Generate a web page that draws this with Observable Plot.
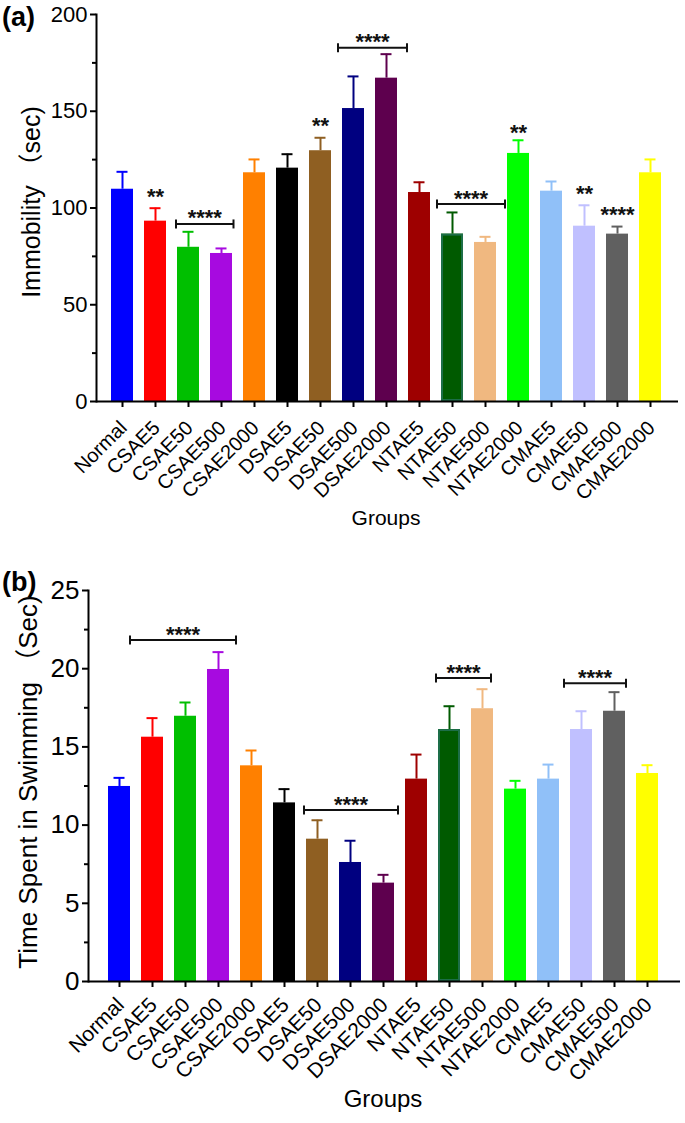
<!DOCTYPE html>
<html><head><meta charset="utf-8">
<script src="https://cdn.jsdelivr.net/npm/d3@7"></script>
<script src="https://cdn.jsdelivr.net/npm/@observablehq/plot@0.6"></script>
<style>
body{margin:0;background:#fff;}
#wrap{position:relative;width:685px;height:1123px;font-family:"Liberation Sans",Arial,sans-serif;}
#wrap svg{display:block;}
.plab{position:absolute;left:2px;font-weight:bold;font-size:27px;line-height:1;color:#000;}
</style></head><body><div id="wrap"><div class="plab" id="la" style="top:4px">(a)</div><div class="plab" id="lb" style="top:569px">(b)</div></div>
<script>
// ---------- data ----------
const groups = ["Normal","CSAE5","CSAE50","CSAE500","CSAE2000","DSAE5","DSAE50","DSAE500","DSAE2000","NTAE5","NTAE50","NTAE500","NTAE2000","CMAE5","CMAE50","CMAE500","CMAE2000"];
const barColors = ["#0000ff","#ff0000","#00bf00","#a70ae0","#ff8000","#000000","#8f5f22","#000080","#5e004e","#9e0000","#005a00","#f0b880","#00ff00","#90c0f8","#c0c0ff","#606060","#ffff00"];

const immobilityMean = [109.7,93.2,79.7,76.5,118.2,120.6,129.6,151.4,167.1,108.0,86.5,82.2,128.2,108.7,90.6,86.5,118.2];
const immobilitySEM  = [9.0,6.7,8.0,2.6,6.9,7.2,6.7,16.6,12.4,5.3,11.2,2.9,6.8,5.0,10.8,3.9,6.9];

const swimMean = [12.47,15.62,16.96,19.95,13.79,11.42,9.10,7.61,6.29,12.94,16.11,17.44,12.30,12.94,16.11,17.28,13.30];
const swimSEM  = [0.55,1.22,0.88,1.11,0.98,0.88,1.21,1.39,0.53,1.57,1.49,1.25,0.53,0.93,1.17,1.22,0.53];

const yTicksA = [0,50,100,150,200];
const yMinorA = [25,75,125,175];
const yTicksB = [0,5,10,15,20,25];
const yMinorB = [2.5,7.5,12.5,17.5,22.5];

const starGroupsA = ["CSAE5","DSAE50","NTAE2000","CMAE50","CMAE500"];
const starLabelsA = ["**","**","**","**","****"];
const starYA      = [108.5,145.2,141.8,109.9,99.2];

const bracketFromA = ["CSAE50","DSAE500","NTAE50"];
const bracketToA   = ["CSAE500","DSAE2000","NTAE500"];
const bracketYA    = [91.5,182.6,101.8];
const bracketLabA  = ["****","****","****"];

const bracketFromB = ["CSAE5","DSAE50","NTAE50","CMAE50"];
const bracketToB   = ["CSAE500","DSAE2000","NTAE500","CMAE500"];
const bracketYB    = [21.8,10.93,19.37,19.03];
const bracketLabB  = ["****","****","****","****"];

// ---------- drawing ----------
const FONT = "'Liberation Sans', Arial, 'Noto Sans CJK SC', sans-serif";

// overhang of brackets beyond bar edges (px), style only
const overhangA = [[1,1.5],[4,10],[4,9]];
const overhangB = [[11,7],[2,4],[2,-2],[6,1]];

function bracketMark(from, to, ys, labels, overhang) {
  return (index, scales) => {
    const x = scales.x, y = scales.y;
    const bw = typeof x.bandwidth === "function" ? x.bandwidth() : 0;
    const g = d3.create("svg:g");
    from.forEach((f, i) => {
      const x1 = x(f) - overhang[i][0];
      const x2 = x(to[i]) + bw + overhang[i][1];
      const yy = y(ys[i]);
      g.append("line").attr("x1", x1).attr("x2", x2).attr("y1", yy).attr("y2", yy)
        .attr("stroke", "#111").attr("stroke-width", 2);
      for (const xe of [x1, x2]) {
        g.append("line").attr("x1", xe).attr("x2", xe).attr("y1", yy - 4.5).attr("y2", yy + 4.5)
          .attr("stroke", "#111").attr("stroke-width", 2);
      }
      g.append("text").attr("x", (x1 + x2) / 2).attr("y", yy + 1.5)
        .attr("text-anchor", "middle").attr("font-size", 22).attr("font-weight", "bold")
        .attr("font-family", FONT).attr("fill", "#111").text(labels[i]);
    });
    return g.node();
  };
}

function panel(o) {
  const rows = groups.map((g, i) => ({group: g, value: o.means[i], sem: o.sems[i]}));
  const stars = (o.starGroups || []).map((g, i) => ({group: g, y: o.starY[i], label: o.starLabels[i]}));
  return Plot.plot({
    width: 685,
    height: o.height,
    marginTop: o.mt, marginBottom: o.mb, marginLeft: o.ml, marginRight: o.mr,
    style: {fontFamily: FONT, color: "#000", background: "#fff", overflow: "visible"},
    x: {domain: groups, padding: 0.34},
    y: {domain: o.yDomain},
    color: {domain: groups, range: barColors},
    marks: [
      Plot.barY(rows, {x: "group", y: "value", fill: "group"}),
      Plot.barY(rows.filter(d => d.group === "NTAE50"), {x: "group", y: "value", fill: "none", stroke: "#1d6e48", strokeWidth: 2, inset: 1}),
      Plot.ruleX(rows, {x: "group", y1: "value", y2: d => d.value + d.sem, stroke: "group", strokeWidth: 2}),
      Plot.tickY(rows, {x: "group", y: d => d.value + d.sem, stroke: "group", strokeWidth: 2, inset: 5.5}),
      Plot.text(stars, {x: "group", y: "y", text: "label", fontSize: 22, fontWeight: "bold", dy: 5.6, fill: "#111"}),
      bracketMark(o.bFrom, o.bTo, o.bY, o.bLab, o.overhang),
      Plot.axisY({ticks: o.yTicks, tickSize: 6, tickPadding: 3, strokeWidth: 2, fontSize: o.yFont, label: null}),
      Plot.axisY({ticks: o.yMinor, tickSize: 4, tickFormat: () => "", strokeWidth: 2, label: null}),
      Plot.axisX({tickSize: 6, tickFormat: () => "", strokeWidth: 2, label: null}),
      Plot.axisX({tickSize: 0, tickRotate: -45, tickPadding: o.xPad, dx: o.xDx, fontSize: o.xFont, label: null}),
      Plot.frame({anchor: "left", strokeWidth: 2}),
      Plot.ruleY([0], {strokeWidth: 2, insetRight: -3}),
      Plot.text([o.yLabel], {frameAnchor: "left", rotate: -90, dx: o.ylDx, dy: o.ylDy, textAnchor: "middle", lineAnchor: "middle", fontSize: o.ylFont}),
      Plot.text(["Groups"], {frameAnchor: "bottom", dy: o.gDy, textAnchor: "middle", lineAnchor: "middle", fontSize: o.gFont})
    ]
  });
}

const wrap = document.getElementById("wrap");
wrap.appendChild(panel({
  means: immobilityMean, sems: immobilitySEM, yDomain: [0, 200], yTicks: yTicksA, yMinor: yMinorA,
  height: 545, mt: 14, mb: 144, ml: 96, mr: 10,
  yFont: 22, xFont: 20, xPad: 23, xDx: 1, yLabel: "Immobility （sec)", ylFont: 25, ylDx: -65, ylDy: -6,
  gFont: 21, gDy: 117,
  starGroups: starGroupsA, starLabels: starLabelsA, starY: starYA,
  bFrom: bracketFromA, bTo: bracketToA, bY: bracketYA, bLab: bracketLabA, overhang: overhangA
}));
wrap.appendChild(panel({
  means: swimMean, sems: swimSEM, yDomain: [0, 25], yTicks: yTicksB, yMinor: yMinorB,
  height: 578, mt: 45, mb: 142, ml: 88, mr: 8,
  yFont: 26, xFont: 21, xPad: 20, xDx: 1, yLabel: "Time Spent in Swimming （Sec)", ylFont: 26, ylDx: -60, ylDy: -4,
  gFont: 24, gDy: 118,
  starGroups: [], starLabels: [], starY: [],
  bFrom: bracketFromB, bTo: bracketToB, bY: bracketYB, bLab: bracketLabB, overhang: overhangB
}));
</script></body></html>
